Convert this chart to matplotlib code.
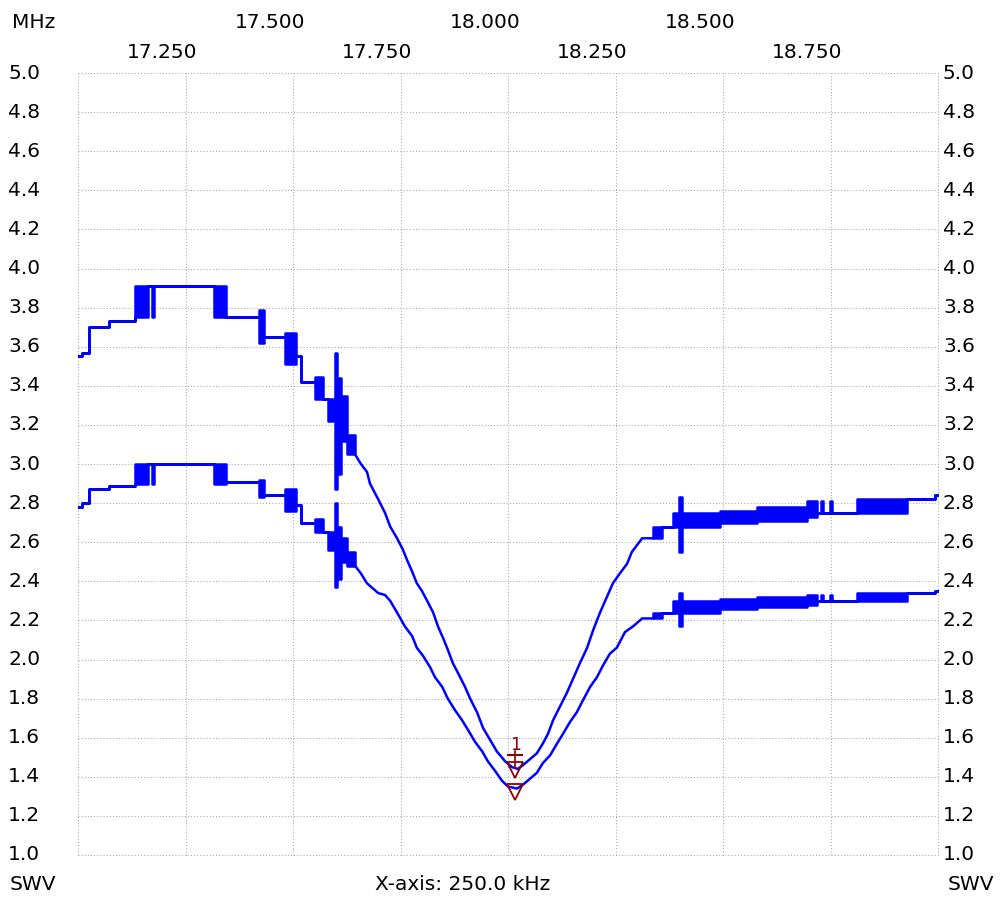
import numpy as np
import matplotlib
matplotlib.use("Agg")
import matplotlib.pyplot as plt
import matplotlib.transforms as mtransforms

# frequency in MHz, SWR values
# left part (stepped, with flicker bands: low/high)
left_freq = [17.000, 17.009, 17.026, 17.072, 17.133, 17.163, 17.172, 17.177, 17.316, 17.344,
             17.421, 17.433, 17.481, 17.507, 17.519, 17.551, 17.570, 17.581, 17.598, 17.602,
             17.605, 17.612, 17.626]
upper_left_low = [3.55, 3.57, 3.70, 3.73, 3.75, 3.91, 3.75, 3.91, 3.75, 3.75,
                  3.62, 3.65, 3.51, 3.55, 3.42, 3.33, 3.33, 3.22, 2.87, 3.10,
                  2.95, 3.12, 3.05]
upper_left_high = [3.55, 3.57, 3.70, 3.73, 3.91, 3.91, 3.91, 3.91, 3.91, 3.75,
                   3.79, 3.65, 3.67, 3.55, 3.42, 3.445, 3.33, 3.33, 3.57, 3.30,
                   3.44, 3.35, 3.15]
lower_left_low = [2.78, 2.80, 2.87, 2.89, 2.90, 3.00, 2.90, 3.00, 2.90, 2.91,
                  2.83, 2.84, 2.76, 2.79, 2.70, 2.65, 2.65, 2.56, 2.37, 2.50,
                  2.41, 2.50, 2.48]
lower_left_high = [2.78, 2.80, 2.87, 2.89, 3.00, 3.00, 3.00, 3.00, 3.00, 2.91,
                   2.92, 2.84, 2.87, 2.79, 2.70, 2.72, 2.65, 2.65, 2.80, 2.63,
                   2.68, 2.62, 2.55]

# dip (resonance) part
upper_dip_freq = [17.644, 17.658, 17.672, 17.679, 17.698, 17.714, 17.726, 17.742, 17.756, 17.765,
                  17.777, 17.788, 17.800, 17.812, 17.826, 17.837, 17.849, 17.860, 17.872, 17.884,
                  17.900, 17.912, 17.928, 17.942, 17.958, 17.974, 17.993, 18.009, 18.023, 18.035,
                  18.051, 18.067, 18.081, 18.093, 18.105, 18.121, 18.137, 18.151, 18.167, 18.184,
                  18.198, 18.214, 18.230, 18.244, 18.260, 18.277, 18.288, 18.312]
upper_dip_swr = [3.05, 3.00, 2.96, 2.90, 2.82, 2.75, 2.68, 2.62, 2.56, 2.51,
                 2.45, 2.39, 2.35, 2.30, 2.24, 2.17, 2.11, 2.05, 1.98, 1.93,
                 1.86, 1.80, 1.73, 1.65, 1.59, 1.53, 1.48, 1.45, 1.44, 1.46,
                 1.49, 1.52, 1.57, 1.62, 1.69, 1.76, 1.83, 1.90, 1.98, 2.06,
                 2.15, 2.24, 2.32, 2.39, 2.44, 2.49, 2.55, 2.62]
lower_dip_freq = [17.644, 17.658, 17.672, 17.698, 17.714, 17.726, 17.742, 17.760, 17.777, 17.788,
                  17.802, 17.819, 17.830, 17.847, 17.860, 17.877, 17.893, 17.907, 17.923, 17.940,
                  17.953, 17.970, 17.986, 18.000, 18.021, 18.035, 18.051, 18.067, 18.081, 18.098,
                  18.114, 18.128, 18.144, 18.160, 18.174, 18.191, 18.207, 18.221, 18.237, 18.253,
                  18.272, 18.291, 18.312]
lower_dip_swr = [2.48, 2.44, 2.39, 2.34, 2.33, 2.30, 2.24, 2.17, 2.12, 2.06,
                 2.02, 1.96, 1.91, 1.86, 1.80, 1.74, 1.69, 1.64, 1.58, 1.53,
                 1.48, 1.43, 1.38, 1.35, 1.34, 1.36, 1.39, 1.42, 1.47, 1.51,
                 1.57, 1.62, 1.68, 1.73, 1.79, 1.86, 1.91, 1.97, 2.03, 2.06,
                 2.14, 2.17, 2.21]

# right part
right_freq = [18.337, 18.358, 18.384, 18.398, 18.405, 18.493, 18.579, 18.695, 18.719, 18.728,
              18.733, 18.749, 18.753, 18.812, 18.928, 18.993, 19.000]
upper_right_low = [2.62, 2.68, 2.68, 2.55, 2.68, 2.70, 2.71, 2.73, 2.75, 2.75,
                   2.75, 2.75, 2.75, 2.75, 2.82, 2.84, 2.84]
upper_right_high = [2.68, 2.68, 2.75, 2.83, 2.75, 2.76, 2.78, 2.81, 2.75, 2.81,
                    2.75, 2.81, 2.75, 2.82, 2.82, 2.84, 2.84]
lower_right_low = [2.21, 2.24, 2.24, 2.17, 2.24, 2.26, 2.27, 2.28, 2.30, 2.30,
                   2.30, 2.30, 2.30, 2.30, 2.34, 2.35, 2.35]
lower_right_high = [2.24, 2.24, 2.30, 2.34, 2.30, 2.31, 2.32, 2.33, 2.30, 2.33,
                    2.30, 2.33, 2.30, 2.34, 2.34, 2.35, 2.35]

marker_freq = 18.017
x_ticks = np.arange(17.0, 19.001, 0.25)
y_ticks = np.arange(1.0, 5.001, 0.2)

W, H = 1003, 902
fig = plt.figure(figsize=(W / 100, H / 100), dpi=100)
ax = fig.add_axes([78 / W, 1 - 855 / H, 860 / W, 782 / H])
ax.set_xlim(17.0, 19.0)
ax.set_ylim(1.0, 5.0)
ax.set_xticks(x_ticks)
ax.set_yticks(y_ticks)
ax.tick_params(length=0, labelbottom=False, labelleft=False)
for s in ax.spines.values():
    s.set_visible(False)
ax.grid(True, color="#a8a8a8", linestyle=(0, (1, 2)), linewidth=0.75)
for gl in ax.get_xgridlines() + ax.get_ygridlines():
    gl.set_clip_on(False)

font = "DejaVu Sans"
fs = 14.5
blue = "#0000ff"
lw = 1.8


def draw_trace(lo_l, hi_l, f_dip, dip, lo_r, hi_r):
    # flicker bands drawn as stepped fills, the dip as a line
    f = np.append(left_freq, f_dip[0])
    ax.fill_between(f, np.append(lo_l, dip[0]), np.append(hi_l, dip[0]), step="post",
                    facecolor=blue, edgecolor=blue, linewidth=lw, zorder=3)
    ax.plot(np.append(f_dip, right_freq[0]), np.append(dip, lo_r[0]), color=blue,
            lw=lw, zorder=3, solid_joinstyle="miter")
    ax.fill_between(right_freq, lo_r, hi_r, step="post", facecolor=blue,
                    edgecolor=blue, linewidth=lw, zorder=3)


draw_trace(upper_left_low, upper_left_high, upper_dip_freq, upper_dip_swr,
           upper_right_low, upper_right_high)
draw_trace(lower_left_low, lower_left_high, lower_dip_freq, lower_dip_swr,
           lower_right_low, lower_right_high)

# marker 1
red = "#8b0000"
vu = np.interp(marker_freq, upper_dip_freq, upper_dip_swr)
vl = np.interp(marker_freq, lower_dip_freq, lower_dip_swr)
ax.plot([marker_freq, marker_freq], [vu, vu + 0.09], color=red, lw=1.2, zorder=4)
ax.plot(marker_freq, vu + 0.065, marker="_", ms=12, mew=1.5, color=red, zorder=4)
ax.plot([marker_freq, marker_freq], [vu - 0.01, vl - 0.02], "v", ms=12, mfc="none",
        mec=red, mew=1.3, zorder=4)
ax.text(marker_freq, vu + 0.12, "1", color=red, fontsize=12.5, ha="center",
        va="center", family=font, zorder=4)

# y labels both sides
ytr = ax.get_yaxis_transform()
for v in y_ticks:
    ax.text(-70 / 860, v, f"{v:.1f}", transform=ytr, ha="left", va="center",
            fontsize=fs, family=font)
    ax.text(1 + 5 / 860, v, f"{v:.1f}", transform=ytr, ha="left", va="center",
            fontsize=fs, family=font)

# x labels, staggered on two rows above the plot
xtr = ax.get_xaxis_transform() + mtransforms.ScaledTranslation(-23 / 100, 0, fig.dpi_scale_trans)
for i, f in enumerate(x_ticks[1:-1]):
    row_y = (855 - 52) / 782 if i % 2 == 0 else (855 - 22) / 782
    ax.text(f, row_y, f"{f:.3f}", transform=xtr, ha="center", va="center",
            fontsize=fs, family=font)

fig.text(12 / W, 1 - 22 / H, "MHz", ha="left", va="center", fontsize=fs, family=font)
fig.text(10 / W, 1 - 885 / H, "SWV", ha="left", va="center", fontsize=fs, family=font)
fig.text(948 / W, 1 - 885 / H, "SWV", ha="left", va="center", fontsize=fs, family=font)
fig.text(463 / W, 1 - 885 / H, "X-axis: 250.0 kHz", ha="center", va="center",
         fontsize=fs, family=font)

fig.savefig("out.png", dpi=100, facecolor="white")
